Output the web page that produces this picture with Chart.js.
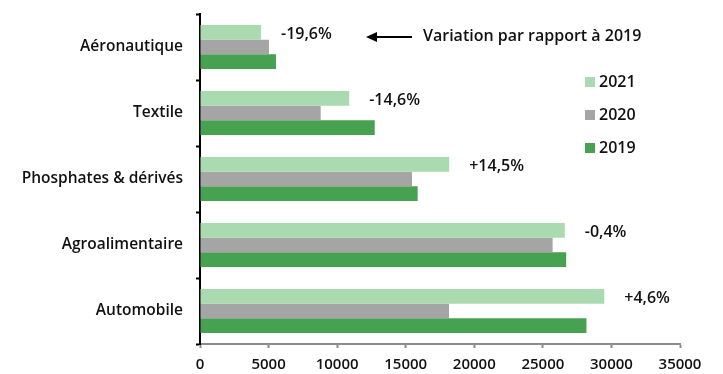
<!DOCTYPE html>
<html>
<head>
<meta charset="utf-8">
<script src="https://cdn.jsdelivr.net/npm/chart.js@4"></script>
<style>
  html, body { margin: 0; padding: 0; background: #fff; }
  #wrap { width: 723px; height: 374px; }
</style>
</head>
<body>
<div id="wrap"><canvas id="mygraph" width="723" height="374"></canvas></div>
<script>
let sectors = ["Aéronautique", "Textile", "Phosphates & dérivés", "Agroalimentaire", "Automobile"];
let y2021 = [4450, 10880, 18170, 26600, 29480];
let y2020 = [5030, 8800, 15460, 25710, 18160];
let y2019 = [5540, 12740, 15870, 26700, 28180];
let variation = ["-19,6%", "-14,6%", "+14,5%", "-0,4%", "+4,6%"];
let xTicks = [0, 5000, 10000, 15000, 20000, 25000, 30000, 35000];

var font = "'Open Sans', sans-serif";

// percentages next to the 2021 bars, arrow note and legend box on the right
var extras = {
  id: "extras",
  afterDatasetsDraw(chart) {
    var c = chart.ctx;
    c.save();
    c.fillStyle = "#111";
    c.font = "600 16px " + font;
    c.textBaseline = "middle";
    c.textAlign = "left";
    var bars = chart.getDatasetMeta(0).data;
    bars.forEach(function (b, i) {
      c.fillText(variation[i], b.x + 20, b.y + 2);
    });

    // arrow
    c.strokeStyle = "#000";
    c.fillStyle = "#000";
    c.lineWidth = 2;
    c.beginPath();
    c.moveTo(412, 37);
    c.lineTo(374, 37);
    c.stroke();
    c.beginPath();
    c.moveTo(366, 37);
    c.lineTo(377, 32);
    c.lineTo(377, 42);
    c.closePath();
    c.fill();
    c.fillStyle = "#111";
    c.fillText("Variation par rapport à 2019", 423, 36);

    // legend
    var ds = chart.data.datasets;
    ds.forEach(function (d, i) {
      var y = 82 + i * 33;
      c.fillStyle = d.backgroundColor;
      c.fillRect(585, y - 5, 10, 10);
      c.fillStyle = "#111";
      c.fillText(d.label, 599, y);
    });
    c.restore();
  }
};

var ctx = document.getElementById("mygraph");

var mygraph = new Chart(ctx, {
  type: "bar",
  data: {
    labels: sectors,
    datasets: [
      { label: "2021", data: y2021, backgroundColor: "#a9dab0" },
      { label: "2020", data: y2020, backgroundColor: "#a5a5a5" },
      { label: "2019", data: y2019, backgroundColor: "#46a150" }
    ]
  },
  options: {
    indexAxis: "y",
    responsive: false,
    animation: false,
    datasets: {
      bar: { categoryPercentage: 0.67, barPercentage: 1, borderWidth: 0 }
    },
    layout: { padding: { top: 14, right: 43, bottom: 0, left: 0 } },
    plugins: { legend: { display: false }, tooltip: { enabled: false } },
    scales: {
      x: {
        min: 0,
        max: 35000,
        afterBuildTicks: function (s) { s.ticks = xTicks.map(function (v) { return { value: v }; }); },
        afterFit: function (s) { s.height = 30; s.paddingLeft = 0; },
        border: { color: "#8c8c8c", width: 2 },
        grid: { drawOnChartArea: false, tickLength: 4, color: "#8c8c8c", tickWidth: 2 },
        ticks: {
          color: "#111", font: { family: font, size: 15, weight: "600" }, padding: 8, maxRotation: 0,
          callback: function (v) { return String(v); }
        }
      },
      y: {
        afterFit: function (s) { s.width = 200; s.paddingTop = 0; s.paddingBottom = 0; },
        border: { color: "#000", width: 2 },
        grid: { drawOnChartArea: false, tickLength: 4, color: "#000", tickWidth: 2 },
        ticks: { color: "#111", font: { family: font, size: 15.5, weight: "600" }, padding: 13 }
      }
    }
  },
  plugins: [extras]
});
</script>
</body>
</html>
